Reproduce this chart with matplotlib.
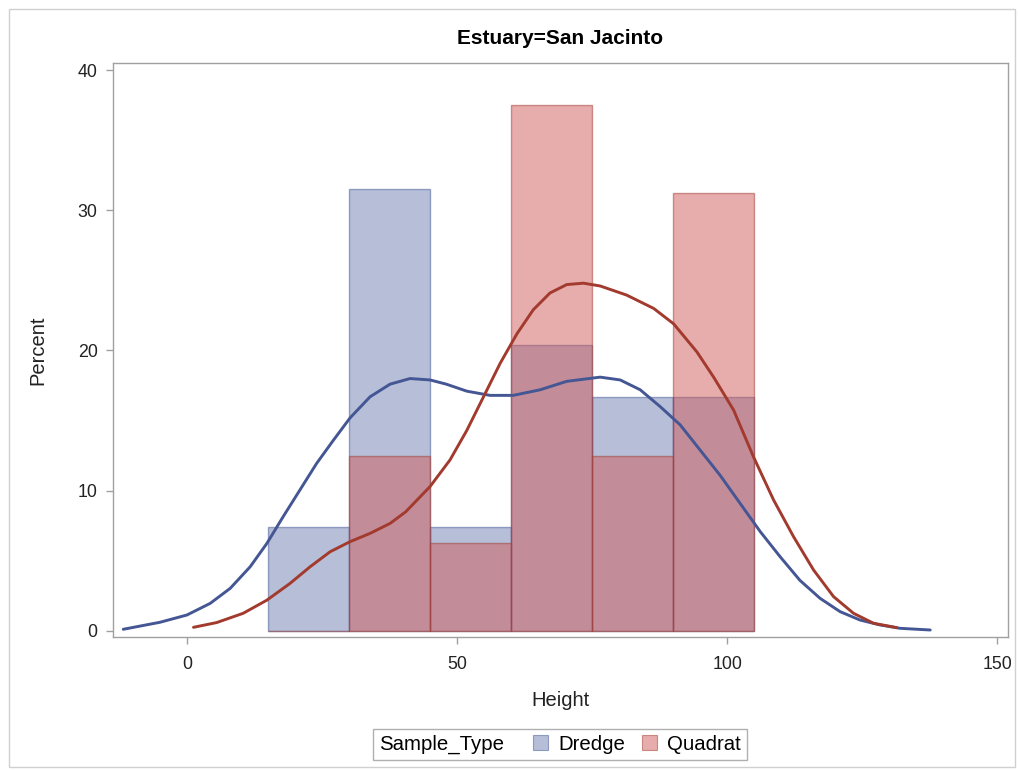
import matplotlib.pyplot as plt
from matplotlib.patches import Patch, Rectangle
from matplotlib.offsetbox import HPacker

plt.rcParams['font.family'] = ['Liberation Sans', 'DejaVu Sans']

# Histogram of Height (percent per 15-unit bin)
bin_left = [15, 30, 45, 60, 75, 90]
bin_width = 15
dredge_pct = [7.41, 31.48, 7.41, 20.37, 16.67, 16.67]
quadrat_pct = [0.0, 12.5, 6.25, 37.5, 12.5, 31.25]

# Kernel density curves
dredge_kx = [-11.8, -5.0, 0.0, 4.3, 8.0, 11.7, 14.8, 17.8, 20.9, 24.0, 27.1, 30.2,
             33.9, 37.6, 41.3, 45.0, 48.0, 51.8, 56.1, 60.4, 65.4, 70.3, 76.5, 80.2,
             83.9, 87.6, 91.3, 95.0, 98.7, 102.4, 106.1, 109.8, 113.5, 117.2, 120.9,
             124.6, 128.3, 132.0, 137.6]
dredge_ky = [0.12, 0.62, 1.14, 1.97, 3.04, 4.58, 6.25, 8.15, 10.05, 11.95, 13.6, 15.2,
             16.7, 17.6, 18.0, 17.9, 17.6, 17.1, 16.8, 16.8, 17.2, 17.8, 18.1, 17.9,
             17.2, 16.0, 14.7, 12.9, 11.1, 9.1, 7.1, 5.3, 3.6, 2.33, 1.38,
             0.78, 0.43, 0.19, 0.07]
quadrat_kx = [1.2, 5.5, 10.4, 14.8, 19.1, 22.8, 26.5, 30.2, 33.9, 37.6, 40.5, 45.0,
              48.7, 51.8, 54.9, 58.0, 61.1, 64.1, 67.2, 70.3, 73.4, 76.5, 81.4, 86.4,
              90.1, 94.4, 97.5, 101.2, 104.9, 108.6, 112.3, 116.0, 119.7, 123.4,
              127.1, 131.4]
quadrat_ky = [0.26, 0.6, 1.26, 2.2, 3.4, 4.58, 5.65, 6.37, 6.96, 7.67, 8.5, 10.3,
              12.2, 14.3, 16.7, 19.1, 21.2, 22.9, 24.1, 24.7, 24.8, 24.6, 23.95, 23.0,
              21.9, 19.9, 18.1, 15.75, 12.4, 9.34, 6.72, 4.35, 2.45, 1.26,
              0.55, 0.24]

blue_fill = '#6f7eb3'
red_fill = '#d05b5b'
blue_line = '#445694'
red_line = '#a23a2e'
axis_gray = '#a0a0a0'

fig = plt.figure(figsize=(10.19, 7.71), dpi=100)
ax = fig.add_axes([113 / 1019, 1 - 637 / 771, 895 / 1019, 574 / 771])

ax.bar(bin_left, dredge_pct, width=bin_width, align='edge',
       color=blue_fill, alpha=0.5, edgecolor=blue_line, linewidth=1.0)
ax.bar(bin_left, quadrat_pct, width=bin_width, align='edge',
       color=red_fill, alpha=0.5, edgecolor=red_line, linewidth=1.0)

ax.plot(dredge_kx, dredge_ky, color=blue_line, linewidth=2.1,
        solid_capstyle='round', solid_joinstyle='round')
ax.plot(quadrat_kx, quadrat_ky, color=red_line, linewidth=2.1,
        solid_capstyle='round', solid_joinstyle='round')

ax.set_xlim(-13.7, 152.0)
ax.set_ylim(-0.43, 40.5)
ax.set_xticks([0, 50, 100, 150])
ax.set_yticks([0, 10, 20, 30, 40])

for s in ax.spines.values():
    s.set_color(axis_gray)
    s.set_linewidth(1.0)
ax.tick_params(direction='out', length=5, width=1, color=axis_gray,
               labelsize=12.8, labelcolor='#222222', pad=6)
ax.tick_params(axis='x', pad=9)

ax.set_xlabel('Height', fontsize=14.5, color='#222222', labelpad=13)
ax.set_ylabel('Percent', fontsize=14.5, color='#222222', labelpad=22)
ax.set_title('Estuary=San Jacinto', fontsize=15, fontweight='bold', pad=14)

# Legend: title on the left of the entries, like SAS
handles = [Patch(facecolor=blue_fill, alpha=0.5, edgecolor=blue_line, linewidth=0.8),
           Patch(facecolor=red_fill, alpha=0.5, edgecolor=red_line, linewidth=0.8)]
leg = fig.legend(handles, ['Dredge', 'Quadrat'], title='Sample_Type', ncol=2,
                 loc='center', bbox_to_anchor=(560 / 1019, 1 - 744.5 / 771),
                 fontsize=14.7, title_fontsize=14.7, frameon=True, fancybox=False,
                 edgecolor='#b0b0b0', framealpha=1, borderpad=0.25,
                 handlelength=0.75, handleheight=0.75, handletextpad=0.5,
                 columnspacing=0.8)
leg.get_frame().set_linewidth(1.0)
box = HPacker(pad=0.3 * 14.7, sep=21, align='baseline',
              children=[leg._legend_title_box, leg._legend_handle_box])
box.set_figure(fig)
box.axes = leg.axes
box.set_offset(leg._findoffset)
leg._legend_box = box

# outer border
fig.add_artist(Rectangle((9 / 1019, 1 - 767 / 771), 1006 / 1019, 758 / 771,
                         transform=fig.transFigure, fill=False,
                         edgecolor='#d0d0d0', linewidth=1.0))

fig.savefig('out.png', dpi=100)
